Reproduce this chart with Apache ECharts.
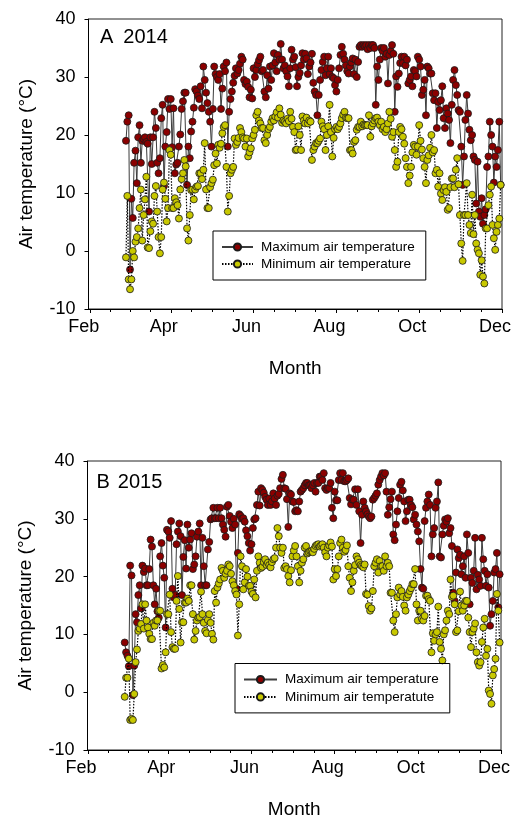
<!DOCTYPE html>
<html>
<head>
<meta charset="utf-8">
<title>Air temperature 2014 / 2015</title>
<script src="https://cdn.jsdelivr.net/npm/echarts@6/dist/echarts.min.js"></script>
<style>
  html, body { margin: 0; padding: 0; background: #fff; }
  #chart { width: 517px; height: 820px; }
</style>
</head>
<body>
<div id="chart"></div>
<script>
// Month ticks on a day-of-year axis (1 Feb, 1 Apr, 1 Jun, 1 Aug, 1 Oct, 1 Dec)
const monthTicks = [32, 91, 152, 213, 274, 335];
const monthLabels = ['Feb', 'Apr', 'Jun', 'Aug', 'Oct', 'Dec'];
const tempTicks = [-10, 0, 10, 20, 30, 40];

// 2014 daily series, first value is day-of-year 58
const startA = 58;
const maxA = [
  19.0, 22.3, 23.4, -3.2, 9.0, 5.7, 15.2, 17.3, 11.7, 19.6, 21.7, 15.2,
  19.0, 19.3, 19.6, 18.8, 18.5, 6.8, 19.6, 15.0, 19.6, 24.0,
  21.2, 15.2, 13.4, 16.0, 22.9, 25.2, 11.2, 18.0, 20.5, 26.2,
  24.5, 26.2, 17.9, 24.6, 13.4, 14.9, 15.2, 18.0, 20.1, 24.5,
  25.8, 27.3, 27.3, 11.4, 18.0, 16.0, 20.6, 22.3, 24.7, 27.9,
  27.5, 26.8, 26.2, 28.4, 24.6, 31.8, 29.5, 27.3, 25.5, 24.0,
  22.3, 18.0, 24.5, 31.8, 30.5, 30.0, 29.5, 30.5, 24.5, 28.0,
  31.8, 31.0, 32.5, 18.0, 24.0, 26.2, 27.5, 29.0, 30.2, 31.5,
  30.6, 31.2, 32.3, 33.5, 33.0, 29.5, 28.8, 29.2, 28.3, 26.5,
  27.8, 26.3, 31.5, 30.0, 31.2, 32.2, 32.9, 33.5, 31.0, 31.2,
  27.5, 26.5, 30.3, 28.0, 31.8, 29.5, 32.0, 34.1, 32.5, 31.0,
  33.8, 33.0, 35.7, 33.0, 31.5, 32.0, 31.0, 30.1, 28.4, 31.5,
  34.7, 33.0, 33.5, 31.7, 28.4, 30.0, 30.7, 32.0, 34.1, 33.0,
  34.0, 33.2, 30.5, 31.8, 32.5, 34.0, 29.0, 27.5, 26.9, 23.4,
  26.9, 29.5, 31.2, 32.6, 33.5, 30.3, 31.5, 33.5, 30.5, 31.5,
  30.0, 29.8, 28.6, 27.5, 29.5, 31.5, 33.8, 35.2, 34.0, 33.0,
  32.0, 31.0, 30.6, 31.8, 32.5, 33.2, 30.5, 33.0, 30.0, 32.6,
  35.2, 35.5, 35.2, 35.5, 35.3, 35.5, 34.8, 35.5, 35.0, 35.5,
  35.5, 35.0, 25.2, 31.8, 29.5, 33.0, 35.0, 34.5, 35.0, 33.5,
  34.0, 28.9, 33.8, 34.5, 35.5, 34.0, 24.0, 30.1, 28.3, 30.6,
  32.4, 33.5, 32.4, 33.5, 32.0, 33.0, 28.9, 29.5, 30.1, 28.4,
  31.2, 31.0, 30.1, 33.5, 33.0, 31.8, 26.9, 27.8, 29.5, 23.4,
  31.8, 31.5, 30.6, 30.6, 27.2, 26.0, 27.2, 21.2, 25.7, 24.3,
  26.0, 28.4, 22.9, 21.2, 24.6, 23.7, 22.6, 18.6, 25.2, 29.5,
  31.2, 28.6, 26.9, 24.3, 24.0, 18.0, 11.4, 16.3, 22.6, 26.9,
  23.7, 20.9, 19.1, 20.0, 16.3, 15.7, 8.2, 15.4, 6.8, 5.9,
  9.1, 4.7, 6.2, 7.2, 14.5, 16.3, 22.3, 20.0, 18.0, 11.8,
  16.3, 14.5, 17.4, 22.3, 11.4
];
const minA = [
  -1.1, 9.5, -4.9, -6.6, -4.9, 0.0, -1.1, 1.6, 2.4, 3.9, 7.4, 10.6,
  1.8, 6.2, 8.9, 12.8, 0.6, 0.5, 3.4, 5.1, 4.7, 9.5,
  11.2, 6.8, 2.4, -0.4, 2.4, 10.6, 11.8, 9.0, 5.1, 7.4,
  17.4, 16.6, 7.4, 7.4, 9.1, 8.4, 7.9, 5.6, 10.6, 12.4,
  13.4, 15.7, 14.6, 3.9, 1.8, 6.2, 10.5, 10.6, 8.9, 10.6,
  11.1, 11.2, 13.4, 13.4, 12.4, 14.0, 18.6, 10.6, 7.4, 7.4,
  11.0, 11.7, 12.3, 14.8, 16.8, 15.1, 18.3, 17.8, 18.5, 20.3,
  21.4, 21.7, 14.5, 6.8, 9.5, 13.4, 14.0, 14.5, 19.4, 18.3,
  18.8, 19.5, 21.2, 20.5, 19.6, 19.4, 18.0, 19.4, 16.3, 17.0,
  17.7, 19.4, 20.0, 20.9, 23.4, 24.0, 22.5, 22.0, 21.2, 21.2,
  19.1, 18.6, 20.0, 21.0, 21.4, 22.3, 22.9, 22.5, 23.2, 23.9,
  23.0, 24.6, 23.5, 22.1, 22.5, 22.3, 22.0, 22.8, 22.4, 24.0,
  22.8, 21.4, 20.5, 17.4, 17.5, 21.5, 20.0, 17.4, 23.2, 22.5,
  22.0, 23.0, 22.0, 22.5, 22.3, 15.7, 17.4, 18.0, 18.6, 18.6,
  19.0, 19.4, 22.3, 21.5, 21.0, 17.4, 20.0, 21.5, 25.2, 20.5,
  16.3, 19.5, 21.0, 21.4, 21.0, 21.4, 22.0, 22.9, 23.5, 24.0,
  23.0, 22.9, 22.9, 17.4, 17.4, 16.8, 18.8, 19.1, 20.9, 21.4,
  21.4, 22.3, 21.5, 21.8, 21.7, 21.7, 21.7, 23.4, 19.7, 21.5,
  22.0, 22.5, 22.9, 23.0, 22.3, 21.7, 22.3, 21.0, 21.4, 20.5,
  21.0, 22.0, 24.0, 22.8, 19.7, 20.5, 17.4, 14.5, 15.4, 20.5,
  21.4, 21.0, 19.7, 18.5, 16.0, 14.5, 11.7, 13.0, 14.5, 17.0,
  18.3, 18.0, 16.6, 18.0, 21.7, 19.0, 17.5, 16.0, 14.5, 11.7,
  15.7, 16.5, 17.8, 20.0, 17.0, 17.4, 13.4, 14.0, 11.1, 13.4,
  9.9, 8.8, 10.5, 11.0, 10.2, 7.1, 7.4, 11.0, 12.5, 12.5,
  11.0, 14.0, 16.0, 11.5, 6.2, 1.3, -1.7, 6.2, 6.2, 11.7,
  6.2, 4.5, 3.1, 9.7, 2.9, 6.2, 1.3, 0.2, -0.4, -4.1,
  -1.6, -4.4, -5.6, 3.9, 3.9, 7.9, 9.7, 11.1, 4.5, 2.2,
  0.2, 3.3, 4.5, 5.6, 11.4
];

// 2015 daily series, first value is day-of-year 59
const startB = 59;
const maxB = [
  8.6, 6.9, 6.3, 4.5, 21.9, 20.2, -0.5, 4.6, 13.5, 12.1, 16.8,
  18.5, 14.5, 21.9, 20.8, 21.4, 18.5, 18.5, 21.3, 26.4, 25.2,
  18.5, 15.2, 17.9, 14.0, 12.9, 23.5, 25.8, 21.9, 19.8, 11.2,
  28.1, 27.8, 26.7, 29.6, 17.9, 16.4, 16.8, 25.6, 27.8, 29.2,
  27.0, 16.8, 23.4, 26.3, 21.4, 29.0, 25.0, 26.4, 27.5, 21.3,
  22.1, 23.5, 26.9, 27.8, 29.2, 18.5, 26.7, 21.8, 18.5, 18.5,
  24.7, 26.0, 29.9, 30.1, 31.9, 30.1, 30.1, 31.9, 30.1, 31.9,
  30.1, 29.0, 28.1, 26.9, 32.1, 32.4, 30.5, 29.5, 28.4, 30.0,
  29.0, 17.9, 24.1, 30.8, 30.5, 30.0, 30.1, 29.5, 28.0, 27.0,
  25.8, 24.5, 25.6, 28.4, 29.9, 30.1, 32.4, 34.7, 32.3, 35.3,
  35.0, 34.5, 33.8, 33.3, 32.4, 33.5, 32.4, 33.0, 34.4, 33.5,
  32.4, 34.0, 34.3, 35.3, 36.9, 37.6, 35.3, 35.2, 33.4, 28.6,
  34.4, 34.2, 33.0, 32.9, 31.3, 31.5, 31.3, 33.0, 34.7, 35.0,
  35.3, 35.8, 36.2, 36.2, 35.8, 35.8, 35.3, 35.8, 36.2, 34.7,
  36.2, 36.2, 37.3, 37.3, 36.7, 37.9, 35.3, 35.0, 35.3, 35.3,
  36.2, 31.9, 30.1, 34.7, 33.2, 33.2, 36.7, 37.9, 36.7, 37.9,
  36.5, 36.5, 36.7, 37.0, 33.6, 32.5, 33.3, 33.3, 35.1, 32.4,
  35.1, 31.3, 25.8, 30.7, 33.0, 31.9, 31.3, 30.8, 30.4, 30.1,
  30.4, 33.3, 33.6, 34.0, 34.4, 35.9, 36.7, 37.3, 37.9, 37.5,
  37.9, 34.7, 30.7, 32.0, 33.4, 34.7, 27.3, 26.3, 29.0, 31.3,
  33.6, 35.9, 36.4, 34.9, 33.0, 29.6, 31.3, 33.3, 33.3, 32.4,
  32.0, 29.9, 30.7, 29.0, 27.8, 26.1, 21.3, 18.1, 17.9, 29.6,
  31.9, 33.0, 34.2, 32.4, 23.5, 27.3, 28.4, 31.9, 33.0, 36.3,
  23.5, 23.3, 27.3, 28.8, 29.9, 29.5, 30.1, 27.5, 28.4, 25.3,
  17.2, 15.8, 20.7, 24.7, 23.2, 23.8, 20.4, 21.8, 23.5, 19.8,
  27.3, 24.1, 15.2, 19.8, 18.9, 21.0, 26.7, 17.8, 20.3, 19.5,
  18.4, 26.7, 23.0, 21.0, 18.4, 20.4, 18.1, 11.5, 13.5, 15.8,
  20.7, 21.3, 24.1, 14.7, 20.4
];
const minB = [
  -0.8, 2.5, 2.5, 5.8, -4.8, -4.6, -4.8, -0.3, 5.2, 7.4, 10.6,
  11.0, 11.8, 15.2, 11.0, 15.2, 12.4, 11.2, 10.1, 9.2, 9.2,
  12.0, 11.5, 12.4, 12.4, 14.1, 14.1, 4.1, 4.7, 4.3, 6.9,
  13.5, 13.5, 16.9, 10.4, 7.8, 7.5, 7.5, 15.8, 20.1, 14.4,
  8.6, 12.1, 12.1, 15.5, 15.5, 16.2, 15.8, 18.5, 18.5, 13.5,
  9.1, 10.6, 12.4, 12.9, 13.0, 17.4, 13.5, 12.0, 10.6, 10.2,
  12.5, 13.5, 12.0, 10.1, 9.1, 17.5, 15.5, 18.1, 18.8, 19.5,
  21.5, 21.0, 19.8, 20.5, 21.0, 22.1, 21.8, 20.5, 19.2, 18.5,
  17.5, 16.9, 9.8, 15.2, 23.5, 21.8, 17.8, 19.0, 21.3, 20.0,
  18.4, 18.4, 17.4, 17.0, 19.5, 16.4, 21.0, 23.5, 22.4, 21.5,
  21.7, 22.5, 23.0, 22.0, 22.4, 22.0, 21.6, 22.5, 23.0, 23.2,
  25.0, 28.4, 27.0, 25.0, 24.1, 25.0, 21.5, 21.8, 21.3, 20.1,
  19.0, 21.1, 23.5, 24.5, 25.3, 23.5, 21.8, 19.0, 21.0, 22.4,
  23.0, 25.0, 25.3, 24.0, 24.2, 24.4, 24.4, 24.2, 24.8, 25.3,
  25.5, 25.6, 25.2, 25.4, 25.6, 25.0, 24.2, 23.5, 25.0, 25.4,
  25.9, 25.2, 19.5, 21.3, 20.1, 21.3, 23.5, 25.8, 26.4, 25.0,
  24.3, 24.6, 25.4, 21.8, 19.8, 17.5, 19.0, 21.0, 22.0, 23.5,
  23.0, 22.4, 22.0, 21.8, 21.6, 22.1, 17.0, 16.9, 14.9, 14.1,
  14.5, 17.5, 21.8, 22.4, 23.0, 20.7, 22.7, 21.8, 21.8, 21.0,
  23.5, 21.8, 22.4, 21.8, 17.2, 17.2, 12.4, 10.4, 13.5, 16.4,
  18.1, 16.9, 17.5, 16.5, 15.0, 14.1, 16.4, 16.9, 17.5, 18.0,
  18.7, 18.7, 21.3, 15.2, 12.4, 14.1, 14.1, 12.7, 12.4, 13.2,
  16.7, 16.7, 16.1, 15.8, 6.9, 10.2, 8.9, 10.0, 10.4, 14.8,
  8.7, 7.5, 5.5, 10.0, 10.7, 12.4, 14.1, 13.5, 19.5, 16.5,
  16.7, 15.2, 10.4, 10.7, 14.0, 17.4, 15.0, 14.1, 15.0, 15.8,
  15.8, 12.9, 10.4, 7.8, 10.4, 11.0, 11.9, 6.9, 5.2, 4.6,
  5.2, 8.7, 11.2, 12.7, 6.3, 7.5, 0.3, -0.3, -2.0, 2.9,
  4.0, 5.8, 17.0, 14.1, 8.6
];

const FONT = '"Liberation Sans", Arial, Helvetica, sans-serif';
const MAX_NAME = 'Maximum air temperature';
const MIN_NAME_A = 'Minimum air temperature';
const MIN_NAME_B = 'Minimum air temperatute';

// Half-month minor ticks between the month ticks
const minorTicks = [];
for (let i = 0; i < monthTicks.length - 1; i++) {
  const a = monthTicks[i], b = monthTicks[i + 1];
  for (let k = 1; k < 4; k++) minorTicks.push(a + (b - a) * k / 4);
}

const toPoints = (arr, start) => arr.map((v, i) => [start + i, v]);

function majorAxis(gridIndex, min) {
  return {
    gridIndex, type: 'value', position: 'bottom', min, max: 335,
    splitLine: { show: false },
    axisLine: { onZero: false, lineStyle: { color: '#000', width: 1 } },
    axisTick: { customValues: monthTicks, length: 4, lineStyle: { color: '#000' } },
    axisLabel: {
      customValues: monthTicks,
      formatter: v => monthLabels[monthTicks.indexOf(v)],
      color: '#000', fontFamily: FONT, fontSize: 18, margin: 9,
      padding: [0, 14, 0, 0]
    },
    name: 'Month', nameLocation: 'middle', nameGap: 50,
    nameTextStyle: { color: '#000', fontFamily: FONT, fontSize: 19 }
  };
}
function minorAxis(gridIndex, min) {
  return {
    gridIndex, type: 'value', position: 'bottom', min, max: 335,
    splitLine: { show: false },
    axisLine: { show: false, onZero: false },
    axisTick: { customValues: minorTicks, length: 3, lineStyle: { color: '#000' } },
    axisLabel: { show: false }
  };
}
function tempAxis(gridIndex) {
  return {
    gridIndex, type: 'value', min: -10, max: 40, interval: 10,
    splitLine: { show: false },
    axisLine: { show: true, onZero: false, lineStyle: { color: '#000', width: 1 } },
    axisTick: { show: true, length: 4, lineStyle: { color: '#000' } },
    axisLabel: {
      color: '#000', fontFamily: FONT, fontSize: 18, margin: 13,
      formatter: v => (tempTicks.includes(v) ? String(v) : '')
    },
    name: 'Air temperature (°C)', nameLocation: 'middle', nameGap: 52,
    nameTextStyle: { color: '#000', fontFamily: FONT, fontSize: 19 }
  };
}

const maxStyle = {
  type: 'line', symbol: 'circle', symbolSize: 7,
  itemStyle: { color: '#8b0000', borderColor: '#1a1a1a', borderWidth: 0.8 },
  lineStyle: { color: '#3c3c3c', width: 1, type: 'solid' },
  emphasis: { disabled: true }, z: 2
};
const minStyle = {
  type: 'line', symbol: 'circle', symbolSize: 7,
  itemStyle: { color: '#c8c800', borderColor: '#1a1a1a', borderWidth: 0.8 },
  lineStyle: { color: '#000', width: 1.2, type: [1.5, 1.5] },
  emphasis: { disabled: true }, z: 3
};

function legendAt(left, top, names, itemWidth, gap) {
  return {
    data: names, orient: 'vertical', left, top,
    padding: [9, 11, 9, 8], itemGap: gap, itemWidth, itemHeight: 9,
    borderColor: '#000', borderWidth: 1, selectedMode: false,
    textStyle: { color: '#000', fontFamily: FONT, fontSize: 13.5, lineHeight: 14, padding: [0, 0, 0, 3] }
  };
}

function panelLabel(letter, year, left, top, gap) {
  const t = { fontFamily: FONT, fontSize: 20, fontWeight: 'normal', color: '#000' };
  return {
    text: '{p|' + letter + '}{y|' + year + '}', left, top, padding: 0,
    textStyle: { fontWeight: 'normal', rich: {
      p: Object.assign({ padding: [0, gap, 0, 0] }, t),
      y: t } }
  };
}

const chart = echarts.init(document.getElementById('chart'), null, { renderer: 'canvas' });
chart.setOption({
  animation: false,
  backgroundColor: '#fff',
  title: [panelLabel('A', '2014', 100, 27, 10), panelLabel('B', '2015', 96.5, 472.5, 8)],
  legend: [
    legendAt(213, 231, [MAX_NAME, MIN_NAME_A], 31, 3),
    legendAt(235, 663.5, [MAX_NAME, MIN_NAME_B], 33, 3.4)
  ],
  grid: [
    { left: 88.5, top: 19, width: 413.5, height: 290, show: true, borderColor: '#222', borderWidth: 1 },
    { left: 87.5, top: 461, width: 413.5, height: 290.5, show: true, borderColor: '#222', borderWidth: 1 }
  ],
  xAxis: [majorAxis(0, 30.4), minorAxis(0, 30.4), majorAxis(1, 31.7), minorAxis(1, 31.7)],
  yAxis: [tempAxis(0), tempAxis(1)],
  series: [
    Object.assign({ name: MAX_NAME, xAxisIndex: 0, yAxisIndex: 0, data: toPoints(maxA, startA) }, maxStyle),
    Object.assign({ name: MIN_NAME_A, xAxisIndex: 0, yAxisIndex: 0, data: toPoints(minA, startA) }, minStyle),
    Object.assign({ name: MAX_NAME, xAxisIndex: 2, yAxisIndex: 1, data: toPoints(maxB, startB) }, maxStyle),
    Object.assign({ name: MIN_NAME_B, xAxisIndex: 2, yAxisIndex: 1, data: toPoints(minB, startB) }, minStyle)
  ]
});
</script>
</body>
</html>
